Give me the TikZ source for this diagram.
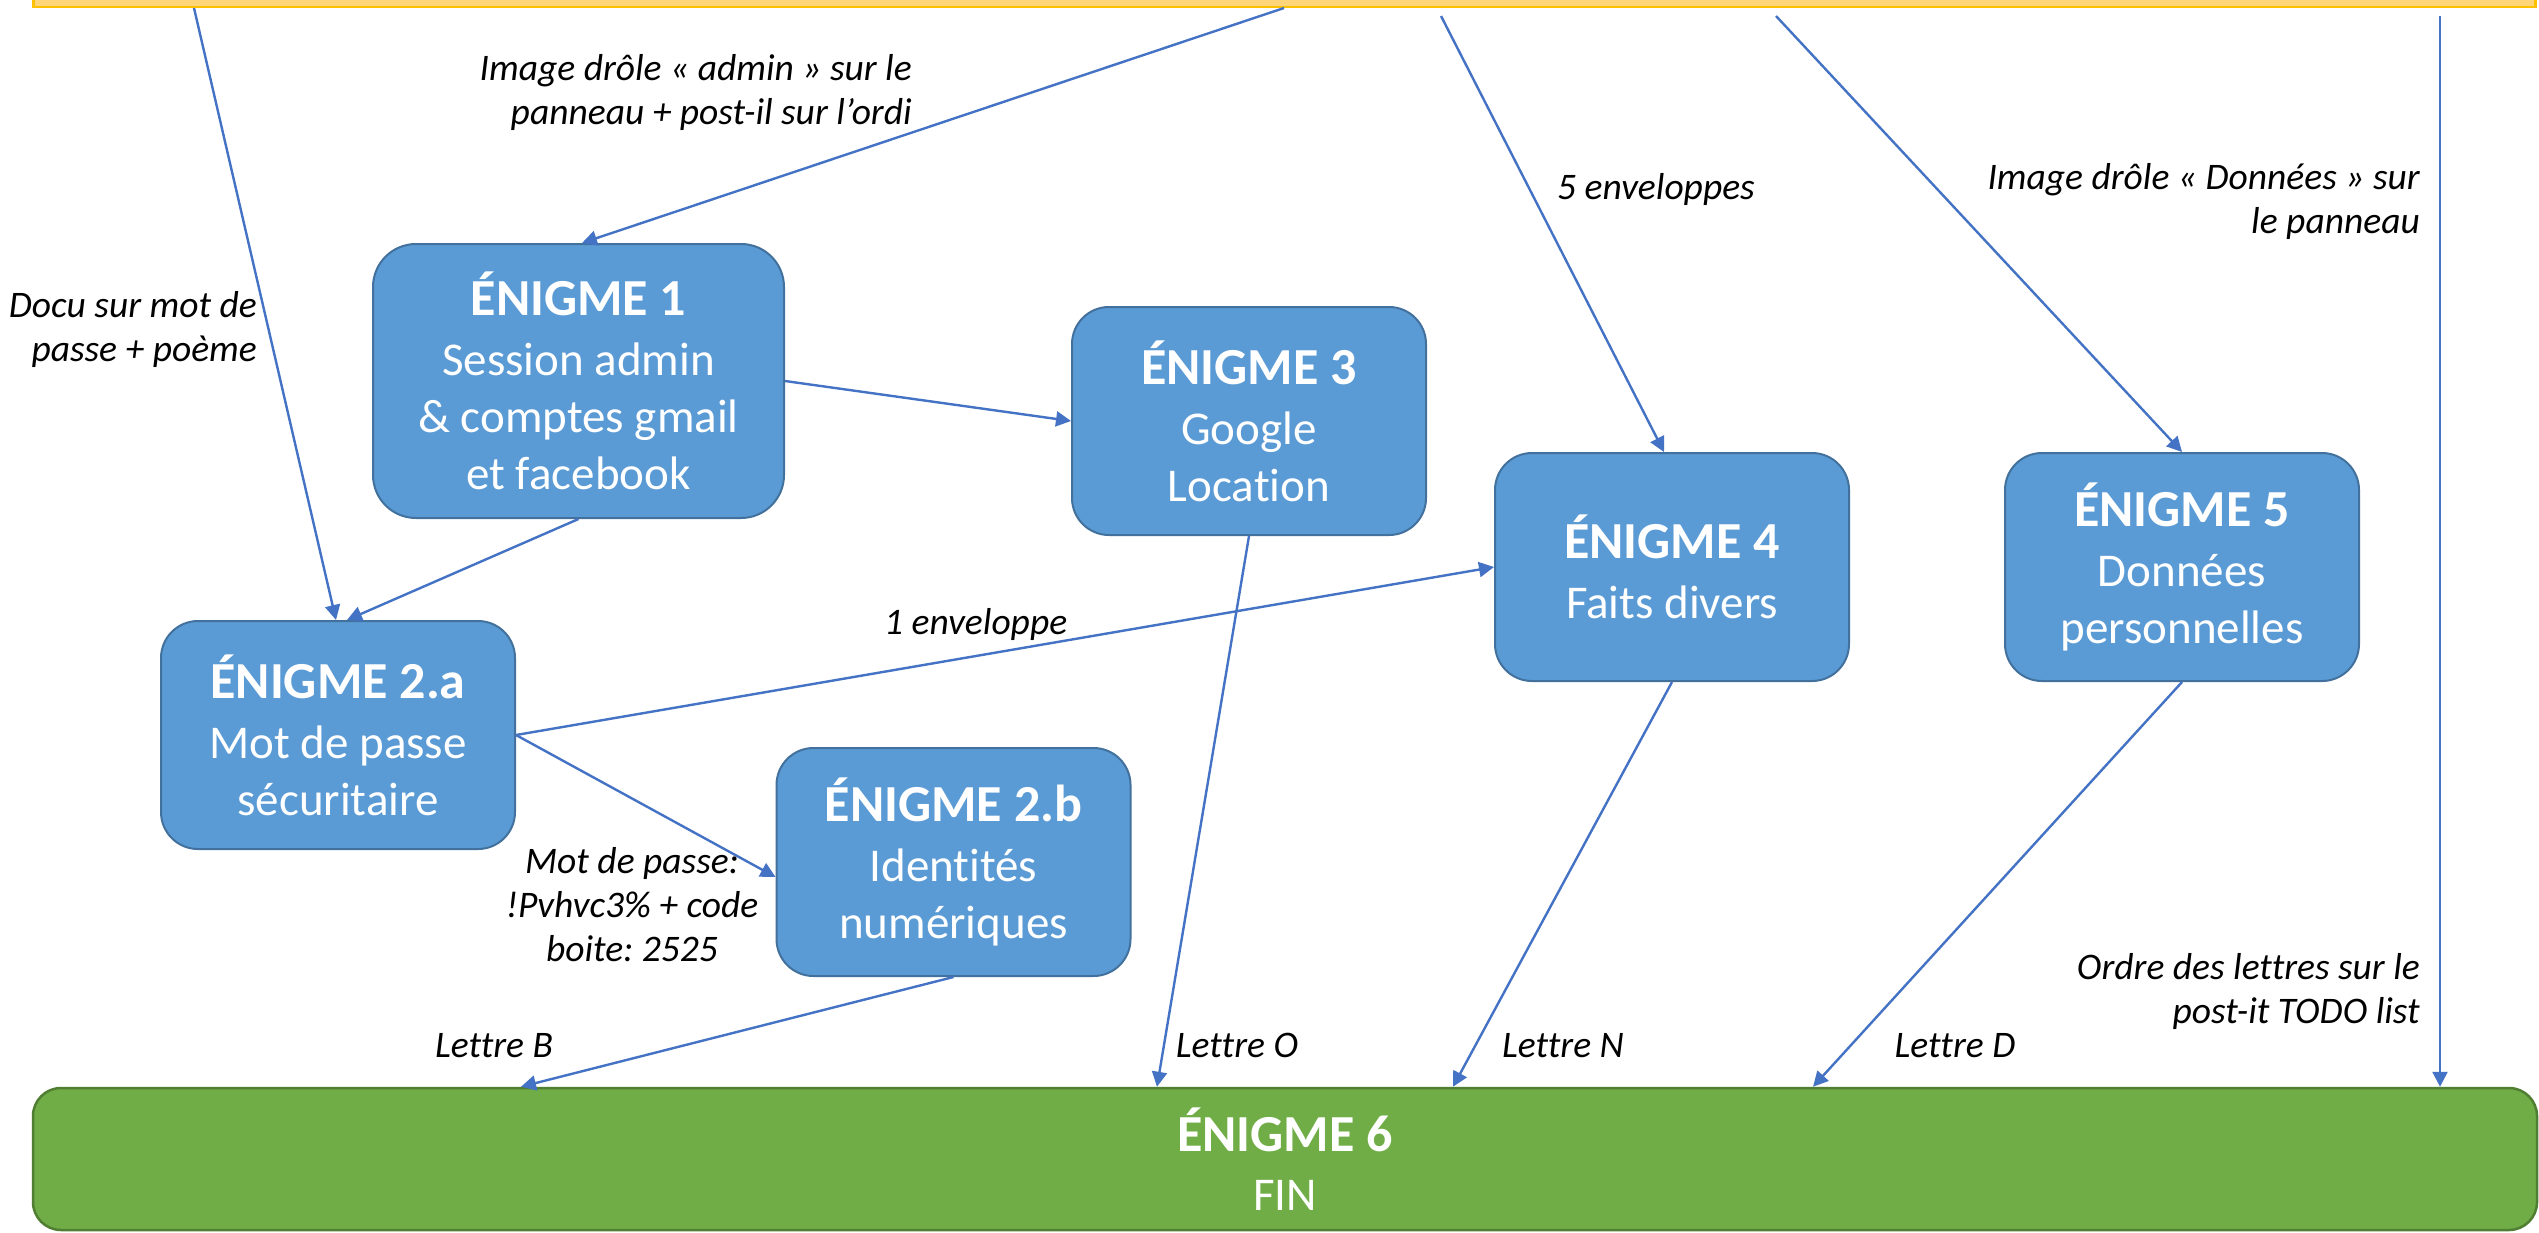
\documentclass[tikz,border=0pt]{standalone}
\usepackage{fontspec}
\setmainfont{Carlito}[Ligatures=NoCommon]
\usetikzlibrary{arrows.meta,calc}
\definecolor{boxblue}{HTML}{5B9BD5}
\definecolor{boxblueborder}{HTML}{41719C}
\definecolor{boxgreen}{HTML}{70AD47}
\definecolor{boxgreenborder}{HTML}{507E32}
\definecolor{barfill}{HTML}{FFD57A}
\definecolor{barborder}{HTML}{FFC000}
\definecolor{arrowblue}{HTML}{4472C4}
\newcommand\enigtitle[1]{{\fontsize{52}{57}\selectfont\bfseries #1}}
\frenchspacing
\begin{document}
\begin{tikzpicture}[x=1pt,y=-1pt,
  enigme/.style={draw=boxblueborder, line width=2pt, fill=boxblue, rounded corners=37pt,
    text=white, align=center, font=\fontsize{47}{57}\selectfont, inner sep=0pt,
    minimum width=354pt, minimum height=228pt},
  conn/.style={draw=arrowblue, line width=2.4pt, -{Triangle[length=15pt,width=15pt]}},
  lbl/.style={font=\fontsize{37.5}{44}\selectfont\itshape, inner sep=0pt},
]
\clip (0,0) rectangle (2539,1232);
\fill[white] (0,0) rectangle (2539,1232);

% top bar
\node[draw=barborder, fill=barfill, line width=2.5pt, minimum width=2502pt, minimum height=60pt,
  inner sep=0pt, anchor=south west] (bar) at (32,8) {};

% boxes
\node[enigme, minimum width=411pt, minimum height=274pt, rounded corners=43pt] (e1) at (578.5,381)
  {\enigtitle{ÉNIGME 1}\\[3pt]Session admin\\\& comptes gmail\\et facebook};
\node[enigme] (e2a) at (338,735) {\enigtitle{ÉNIGME 2.a}\\[3pt]Mot de passe\\sécuritaire};
\node[enigme] (e2b) at (953.5,862) {\enigtitle{ÉNIGME 2.b}\\[3pt]Identités\\numériques};
\node[enigme] (e3) at (1249,421) {\enigtitle{ÉNIGME 3}\\[3pt]Google\\Location};
\node[enigme] (e4) at (1672,567) {\enigtitle{ÉNIGME 4}\\[3pt]Faits divers};
\node[enigme] (e5) at (2182,567) {\enigtitle{ÉNIGME 5}\\[3pt]Données\\personnelles};
\node[draw=boxgreenborder, fill=boxgreen, line width=2.5pt, rounded corners=28pt,
  minimum width=2504pt, minimum height=142pt, inner sep=0pt, text=white, align=center,
  font=\fontsize{47}{57}\selectfont] (e6) at (1285,1159) {\enigtitle{ÉNIGME 6}\\[2pt]FIN};

% start points under the top bar
\coordinate (s1) at (194,8);
\coordinate (s2) at (1284,8);
\coordinate (s3) at (1441,16);
\coordinate (s4) at (1776,16);
\coordinate (s5) at (2440,16);

% connectors
\draw[conn] (s1) -- ([xshift=-2pt]e2a.north);
\draw[conn] (s2) -- ([xshift=3.5pt]e1.north);
\draw[conn] (s3) -- ([xshift=-8pt]e4.north);
\draw[conn] (s4) -- (e5.north);
\draw[conn] (s5) -- (s5 |- e6.north);
\draw[conn] (e1.east) -- (e3.west);
\draw[conn] (e1.south) -- ([xshift=9pt]e2a.north);
\draw[conn] (e2a.east) -- (e4.west);
\draw[conn] (e2a.east) -- ([yshift=-15pt]e2b.west);
\draw[conn] (e2b.south) -- ([xshift=-764pt]e6.north);
\draw[conn] (e3.south) -- ([xshift=-128pt]e6.north);
\draw[conn] (e4.south) -- ([xshift=168pt]e6.north);
\draw[conn] (e5.south) -- ([xshift=528pt]e6.north);

% labels
\node[lbl, anchor=base east] (l1) at (257,317)
  {\begin{tabular}[t]{@{}r@{}}Docu sur mot de\\passe + poème\end{tabular}};
\node[lbl, anchor=base east] (l2) at (912,80)
  {\begin{tabular}[t]{@{}r@{}}Image drôle « admin » sur le\\panneau + post-il sur l’ordi\end{tabular}};
\node[lbl, anchor=base west] (l3) at (1557,199) {5 enveloppes};
\node[lbl, anchor=base east] (l4) at (2420,189)
  {\begin{tabular}[t]{@{}r@{}}Image drôle « Données » sur\\le panneau\end{tabular}};
\node[lbl, anchor=base east] (l5) at (2420,979)
  {\begin{tabular}[t]{@{}r@{}}Ordre des lettres sur le\\post-it TODO list\end{tabular}};
\node[lbl, anchor=base west] (l6) at (884,634) {1 enveloppe};
\node[lbl, anchor=base] (l7) at (632,873)
  {\begin{tabular}[t]{@{}c@{}}Mot de passe:\\!Pvhvc3\% + code\\boite: 2525\end{tabular}};
\node[lbl, anchor=base] (l8) at (494,1057) {Lettre B};
\node[lbl, anchor=base] (l9) at (1237,1057) {Lettre O};
\node[lbl, anchor=base] (l10) at (1563,1057) {Lettre N};
\node[lbl, anchor=base] (l11) at (1955,1057) {Lettre D};
\end{tikzpicture}
\end{document}
